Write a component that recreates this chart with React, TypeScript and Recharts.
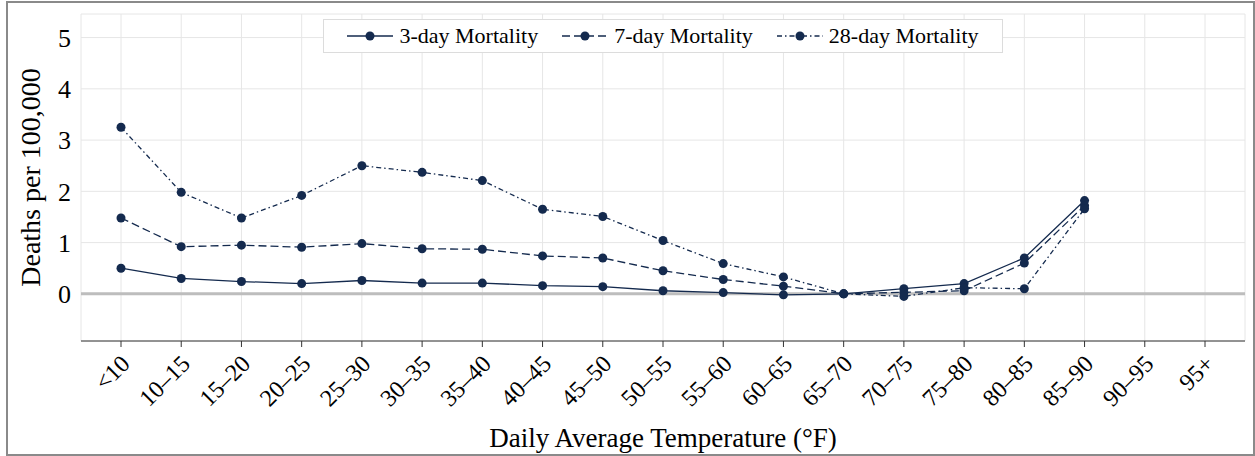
import React from "react";
import {
  LineChart,
  Line,
  XAxis,
  YAxis,
  CartesianGrid,
  ReferenceLine,
  Label,
} from "recharts";

const bins = [
  "<10", "10–15", "15–20", "20–25", "25–30", "30–35", "35–40", "40–45", "45–50",
  "50–55", "55–60", "60–65", "65–70", "70–75", "75–80", "80–85", "85–90", "90–95", "95+",
];

const day3 = [0.5, 0.3, 0.24, 0.2, 0.26, 0.21, 0.21, 0.16, 0.14, 0.06, 0.025, -0.02, 0, 0.1, 0.2, 0.7, 1.82, null, null];
const day7 = [1.48, 0.92, 0.95, 0.91, 0.98, 0.88, 0.87, 0.74, 0.7, 0.45, 0.28, 0.15, 0, 0.03, 0.06, 0.6, 1.72, null, null];
const day28 = [3.25, 1.98, 1.48, 1.92, 2.5, 2.37, 2.21, 1.65, 1.51, 1.04, 0.59, 0.33, 0, -0.05, 0.12, 0.1, 1.66, null, null];

const yTicks = [0, 1, 2, 3, 4, 5];

const seriesInfo = [
  { key: "day3", name: "3-day Mortality", dash: undefined },
  { key: "day7", name: "7-day Mortality", dash: "8 4" },
  { key: "day28", name: "28-day Mortality", dash: "5 3 1.5 3" },
];

const data = bins.map((b, i) => ({
  bin: b,
  day3: day3[i],
  day7: day7[i],
  day28: day28[i],
}));

const NAVY = "#142a4e";
const FONT = "'Liberation Serif', 'Times New Roman', serif";

function XTick(props: any) {
  const { x, y, payload } = props;
  return (
    <g transform={`translate(${x - 2},${y + 4})`}>
      <text
        textAnchor="end"
        transform="rotate(-45)"
        dy="0.72em"
        fontSize={24}
        fontFamily={FONT}
        fill="#000"
      >
        {payload.value}
      </text>
    </g>
  );
}

function LegendBox() {
  return (
    <div
      style={{
        position: "absolute",
        left: 323,
        top: 19,
        width: 680,
        height: 34,
        boxSizing: "border-box",
        border: "1px solid #dcdcdc",
        background: "#fff",
        display: "flex",
        alignItems: "center",
        justifyContent: "center",
        gap: 24,
        fontFamily: FONT,
        fontSize: 22,
        color: "#000",
      }}
    >
      {seriesInfo.map((s) => (
        <div key={s.key} style={{ display: "flex", alignItems: "center", gap: 6 }}>
          <svg width={46} height={12}>
            <line x1={0} y1={6} x2={46} y2={6} stroke={NAVY} strokeWidth={1.3} strokeDasharray={s.dash} />
            <circle cx={23} cy={6} r={4.5} fill={NAVY} />
          </svg>
          <span>{s.name}</span>
        </div>
      ))}
    </div>
  );
}

export default function App() {
  return (
    <div style={{ position: "absolute", left: 0, top: 0, width: 1255, height: 456, background: "#fff" }}>
      <div
        style={{
          position: "absolute",
          left: 6,
          top: 1,
          width: 1249,
          height: 455,
          boxSizing: "border-box",
          border: "2px solid #8a8a8a",
        }}
      />
      <LineChart
        width={1255}
        height={456}
        data={data}
        margin={{ top: 14, right: 10, bottom: 0, left: 0 }}
        style={{ fontFamily: FONT }}
      >
        <CartesianGrid stroke="#e6e6e6" strokeWidth={1} />
        <XAxis
          dataKey="bin"
          padding={{ left: 40, right: 40 }}
          stroke="#333"
          tickSize={6}
          tick={<XTick />}
          interval={0}
          height={115}
        >
          <Label
            value="Daily Average Temperature (°F)"
            position="insideBottom"
            offset={9}
            style={{ fontSize: 27, fontFamily: FONT, fill: "#000" }}
          />
        </XAxis>
        <YAxis
          domain={[-0.92, 5.46]}
          ticks={yTicks}
          width={81}
          axisLine={false}
          tickLine={false}
          tickSize={0}
          tickMargin={10}
          tick={{ fontSize: 26, fontFamily: FONT, fill: "#000" }}
        >
          <Label
            value="Deaths per 100,000"
            angle={-90}
            position="insideLeft"
            offset={30}
            style={{ textAnchor: "middle", fontSize: 28, fontFamily: FONT, fill: "#000" }}
          />
        </YAxis>
        <ReferenceLine y={0} stroke="#bdbdbd" strokeWidth={3} />
        {seriesInfo.map((s) => (
          <Line
            key={s.key}
            dataKey={s.key}
            name={s.name}
            stroke={NAVY}
            strokeWidth={1.3}
            strokeDasharray={s.dash}
            dot={{ r: 4.5, fill: NAVY, stroke: NAVY, strokeWidth: 0, strokeDasharray: "" }}
            activeDot={false}
            isAnimationActive={false}
          />
        ))}
      </LineChart>
      <LegendBox />
    </div>
  );
}
